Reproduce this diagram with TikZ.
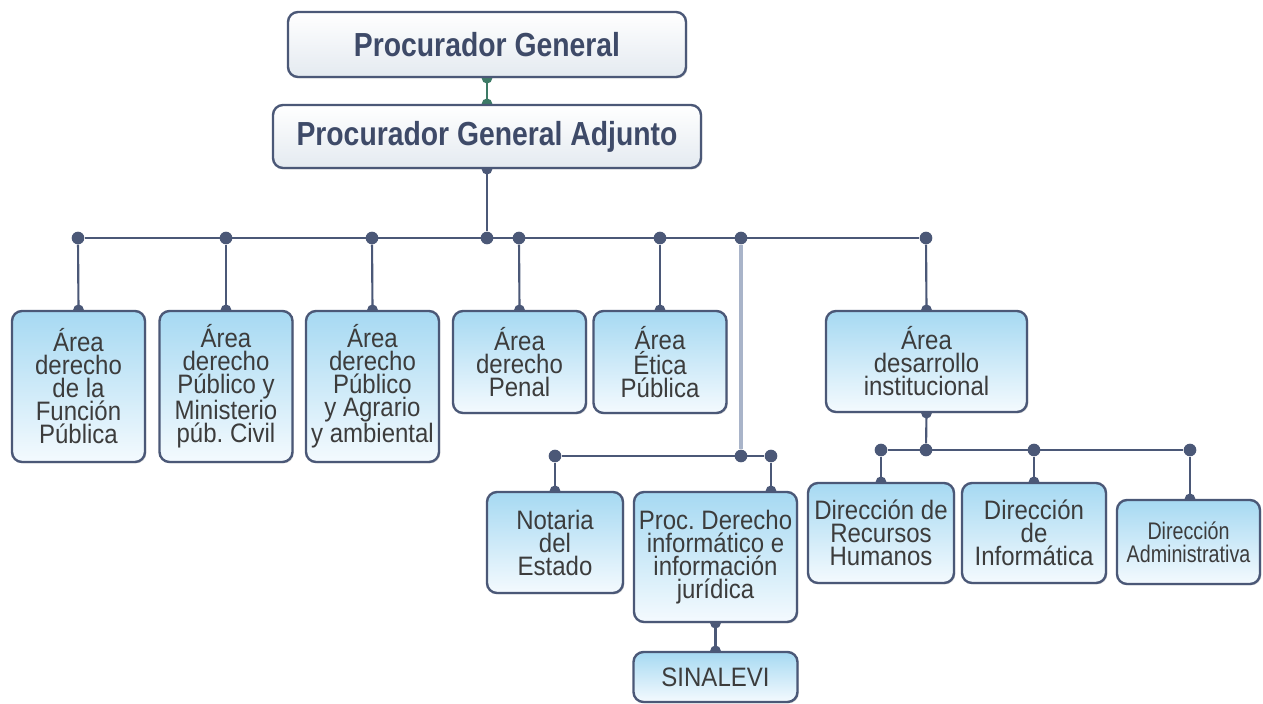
\documentclass[tikz,border=0pt]{standalone}
\usepackage{fontspec}
\setmainfont{Liberation Sans}
\newfontfamily\headfont[FakeStretch=0.85]{Liberation Sans}
\newfontfamily\boxfont[FakeStretch=0.9]{Liberation Sans}
\newfontfamily\narrowfont[FakeStretch=0.82]{Liberation Sans}
\frenchspacing
\usetikzlibrary{positioning,shadows,backgrounds}
\definecolor{linkc}{HTML}{4B5877}
\definecolor{linkl}{HTML}{A9B4C9}
\definecolor{linkg}{HTML}{3D7A66}
\definecolor{headtext}{HTML}{3E4A68}
\definecolor{headbot}{HTML}{E4EAF0}
\definecolor{boxtext}{HTML}{3C3C3C}
\definecolor{areatop}{HTML}{A6D9F2}
\definecolor{areabot}{HTML}{F4FAFE}
\tikzset{
    head/.style={
        rectangle,
        rounded corners=7.5pt,
        line width=1.8pt,
        draw=linkc,
        top color=white,
        bottom color=headbot,
        text=headtext,
        inner sep=0pt,
        font=\headfont\bfseries\fontsize{25}{28}\selectfont,
        drop shadow={shadow xshift=1pt,shadow yshift=-1pt,opacity=0.25},
    },
    area/.style={
        rectangle,
        rounded corners=7.5pt,
        line width=1.8pt,
        draw=linkc,
        top color=areatop,
        bottom color=areabot,
        text=boxtext,
        align=center,
        inner sep=0pt,
        font=\boxfont\fontsize{20}{17.25}\selectfont,
        drop shadow={shadow xshift=1pt,shadow yshift=-1pt,opacity=0.25},
    },
    trace/.style={
        draw=linkc,
        line width=1.6pt,
    },
    trace-light/.style={
        draw=linkc!85,
        line width=0.5pt,
        double=linkl,
        double distance=2.4pt,
    },
    trace-point/.style={
        circle,
        fill=linkc,
        inner sep=0pt,
        minimum size=9.5pt
    },
    edge-point/.style={
        circle,
        fill=linkc,
        inner sep=0pt,
        minimum size=8pt
    },
}

\begin{document}
\begin{tikzpicture}[x=0.75pt,y=-0.75pt]
    \useasboundingbox (0,0) rectangle (1263,703);
    % top of the chart
    \node [head, minimum width=298.5pt, minimum height=48.75pt] at (487,44.5) (pg) {Procurador General};
    \node [head, minimum width=321pt, minimum height=47.25pt] at (487,136.5) (pga) {Procurador General Adjunto};
    % areas
    \node [area, minimum width=99.75pt, minimum height=113.25pt] at (78.5,386.5) (a1) {Área\\derecho\\de la\\Función\\Pública};
    \node [area, minimum width=99.75pt, minimum height=113.25pt] at (226,386.5) (a2) {Área\\derecho\\Público y\\Ministerio\\púb. Civil};
    \node [area, minimum width=99.75pt, minimum height=113.25pt] at (372.5,386.5) (a3) {Área\\derecho\\Público\\y Agrario\\y ambiental};
    \node [area, minimum width=99.75pt, minimum height=76.5pt] at (519.5,362) (a4) {Área\\derecho\\Penal};
    \node [area, minimum width=99.75pt, minimum height=76.5pt] at (660,362) (a5) {Área\\Ética\\Pública};
    \node [area, minimum width=150.75pt, minimum height=75.75pt] at (926.5,361.5) (a6) {Área\\desarrollo\\institucional};
    % procuradurias
    \node [area, minimum width=102pt, minimum height=75.75pt] at (555,542.5) (not) {Notaria\\del\\Estado};
    \node [area, minimum width=122.25pt, minimum height=97.5pt] at (715.5,557) (proc) {Proc. Derecho\\informático e\\información\\jurídica};
    \node [area, minimum width=123pt, minimum height=37.5pt] at (715.5,677) (sin) {SINALEVI};
    % direcciones
    \node [area, minimum width=109.5pt, minimum height=75pt] at (881,533) (rh) {Dirección de\\Recursos\\Humanos};
    \node [area, minimum width=108pt, minimum height=75pt] at (1034,533) (inf) {Dirección\\de\\Informática};
    \node [area, minimum width=107.25pt, minimum height=63pt, font=\narrowfont\fontsize{18}{17.25}\selectfont] at (1188.5,542) (adm) {Dirección\\Administrativa};
    % junctions
    \node [trace-point] at (78,238) (b1) {};
    \node [trace-point] at (226,238) (b2) {};
    \node [trace-point] at (372,238) (b3) {};
    \node [trace-point] at (487,238) (b0) {};
    \node [trace-point] at (519,238) (b4) {};
    \node [trace-point] at (660,238) (b5) {};
    \node [trace-point] at (741,238) (b7) {};
    \node [trace-point] at (926,238) (b6) {};
    \node [trace-point] at (555,456) (s1) {};
    \node [trace-point] at (741,456) (s2) {};
    \node [trace-point] at (771,456) (s3) {};
    \node [trace-point] at (881,450) (d1) {};
    \node [trace-point] at (926,450) (d0) {};
    \node [trace-point] at (1034,450) (d2) {};
    \node [trace-point] at (1190,450) (d3) {};
    \begin{scope}[on background layer]
        \draw [draw=linkg, line width=1.5pt] (pg.south) -- (pga.north);
        \node [edge-point, fill=linkg] at (pg.south) {};
        \node [edge-point, fill=linkg] at (pga.north) {};
        \draw [trace] (pga.south) -- (b0);
        \node [edge-point] at (pga.south) {};
        \draw [trace] (b1) -- (b6);
        \foreach \j/\b in {b1/a1, b2/a2, b3/a3, b4/a4, b5/a5, b6/a6} {
            \draw [trace] (\j) -- (\b.north);
            \node [edge-point] at (\b.north) {};
        }
        \draw [trace-light] (b7) -- (s2);
        \draw [trace] (s1) -- (s3);
        \draw [trace] (s1) -- (not.north);
        \node [edge-point] at (not.north) {};
        \draw [trace] (s3) -- (s3 |- proc.north);
        \node [edge-point] at (s3 |- proc.north) {};
        \draw [trace] (proc.south) -- (sin.north);
        \node [edge-point] at (proc.south) {};
        \node [edge-point] at (sin.north) {};
        \draw [trace] (a6.south) -- (d0);
        \node [edge-point] at (a6.south) {};
        \draw [trace] (d1) -- (d3);
        \foreach \j/\b in {d1/rh, d2/inf} {
            \draw [trace] (\j) -- (\b.north);
            \node [edge-point] at (\b.north) {};
        }
        \draw [trace] (d3) -- (d3 |- adm.north);
        \node [edge-point] at (d3 |- adm.north) {};
    \end{scope}
\end{tikzpicture}
\end{document}
